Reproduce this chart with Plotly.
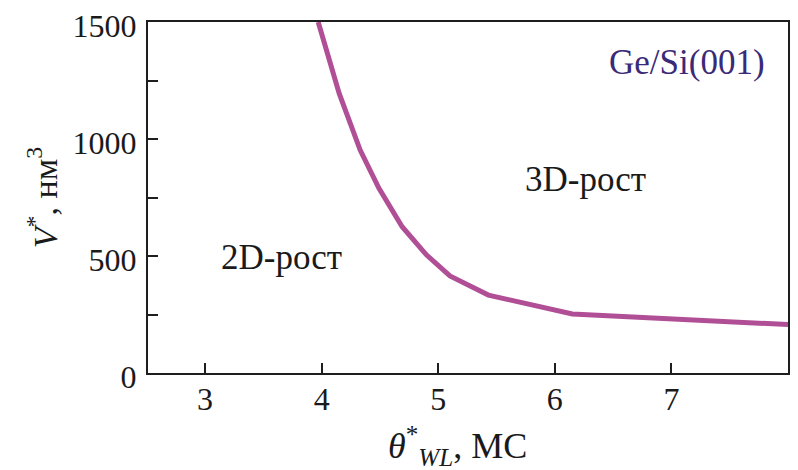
import plotly.graph_objects as go

# Data
theta_wl = [3.97, 4.15, 4.33, 4.49, 4.69, 4.90, 5.10, 5.43, 6.15, 8.0]
v_crit = [1500, 1195, 953, 790, 625, 504, 415, 333, 252, 207]

x_ticks = [3, 4, 5, 6, 7]
y_ticks = [0, 250, 500, 750, 1000, 1250, 1500]
y_ticktext = ["0", "", "500", "", "1000", "", "1500"]

FONT = "'Liberation Serif', 'Times New Roman', serif"
AX = "#1e1e1e"

fig = go.Figure()
fig.add_trace(go.Scatter(
    x=theta_wl, y=v_crit, mode="lines",
    line=dict(color="#b14f96", width=5),
    showlegend=False, hoverinfo="skip",
))

fig.update_layout(
    width=798, height=470,
    margin=dict(l=148, r=8, t=22, b=97),
    paper_bgcolor="white", plot_bgcolor="white",
    font=dict(family=FONT, size=32, color="#1a1a1a"),
    xaxis=dict(
        range=[2.51, 8.0], tickvals=x_ticks, ticks="inside", ticklen=10,
        tickwidth=2, tickcolor=AX, showline=True, linewidth=2, linecolor=AX,
        mirror=True, showgrid=False, zeroline=False, ticklabelstandoff=-3,
        tickfont=dict(family=FONT, size=32),
    ),
    yaxis=dict(
        range=[0, 1500], tickvals=y_ticks, ticktext=y_ticktext, ticks="inside",
        ticklen=10, tickwidth=2, tickcolor=AX, showline=True, linewidth=2,
        linecolor=AX, mirror=True, showgrid=False, zeroline=False,
        ticklabelstandoff=3, ticklabelshift=4,
        tickfont=dict(family=FONT, size=32),
        title=dict(text="<i>V</i><sup>*</sup>, нм<sup>3</sup>",
                   font=dict(family=FONT, size=34), standoff=5),
    ),
    annotations=[
        dict(x=0.483, y=-0.13, xref="paper", yref="paper", yanchor="top",
             text="<i>θ</i><sup>*</sup><sub><i>WL</i></sub>, МС",
             showarrow=False, font=dict(family=FONT, size=36, color="#1a1a1a")),
        dict(x=3.656, y=492, text="2D-рост", showarrow=False,
             font=dict(family=FONT, size=35, color="#1a1a1a")),
        dict(x=6.26, y=828, text="3D-рост", showarrow=False,
             font=dict(family=FONT, size=35, color="#1a1a1a")),
        dict(x=7.13, y=1328, text="Ge/Si(001)", showarrow=False,
             font=dict(family=FONT, size=35, color="#3b2a78")),
    ],
)

fig.write_html("out.html")
